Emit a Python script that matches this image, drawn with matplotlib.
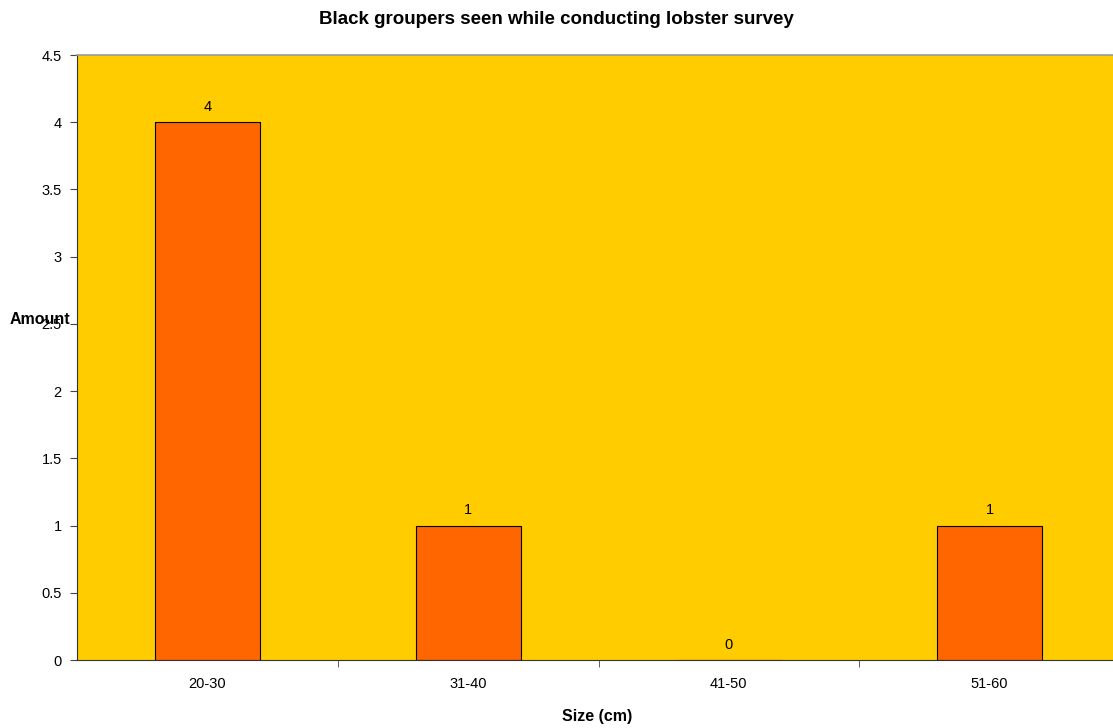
import numpy as np
import matplotlib.pyplot as plt

plt.rcParams['font.family'] = ['Liberation Sans', 'DejaVu Sans']

# data
sizes = ["20-30", "31-40", "41-50", "51-60"]
amounts = [4, 1, 0, 1]

fig = plt.figure(figsize=(11.13, 7.28), dpi=100)
# plot area runs slightly past the right edge of the picture
ax = fig.add_axes([77/1113, 68/728, 1043/1113, 605/728])
ax.set_facecolor("#FFCC00")

x = np.arange(len(sizes))
bars = ax.bar(x, amounts, width=0.403, color="#FF6600", edgecolor="black", linewidth=0.8)

# value labels above bars
for xi, v in zip(x, amounts):
    ax.text(xi, v + 0.06, str(v), ha="center", va="bottom", fontsize=10.5)

ax.set_xlim(-0.5, len(sizes) - 0.5)
ax.set_ylim(0, 4.5)
ax.set_yticks(np.arange(0, 4.51, 0.5))
ax.set_yticklabels(["0", "0.5", "1", "1.5", "2", "2.5", "3", "3.5", "4", "4.5"])
ax.set_xticks(x)
ax.set_xticklabels(sizes)
ax.tick_params(axis="x", length=0, pad=12, labelsize=10.5)
ax.set_xticks(np.arange(0.5, len(sizes) - 0.5, 1), minor=True)
ax.tick_params(axis="x", which="minor", length=5, color="#444444")
ax.tick_params(axis="y", length=5, color="#444444", labelsize=10.5, pad=6)

for s in ["left", "bottom"]:
    ax.spines[s].set_color("#333333")
    ax.spines[s].set_linewidth(0.8)
ax.spines["top"].set_color("#999999")
ax.spines["top"].set_linewidth(1.2)
ax.spines["right"].set_visible(False)

fig.text(556/1113, 1 - 20/728, "Black groupers seen while conducting lobster survey",
         ha="center", va="center", fontsize=13.5, fontweight="bold")
fig.text(40/1113, 1 - 320/728, "Amount", ha="center", va="center",
         fontsize=11.5, fontweight="bold")
fig.text(597/1113, 1 - 716/728, "Size (cm)", ha="center", va="center",
         fontsize=11.5, fontweight="bold")

fig.savefig("out.png", dpi=100)
